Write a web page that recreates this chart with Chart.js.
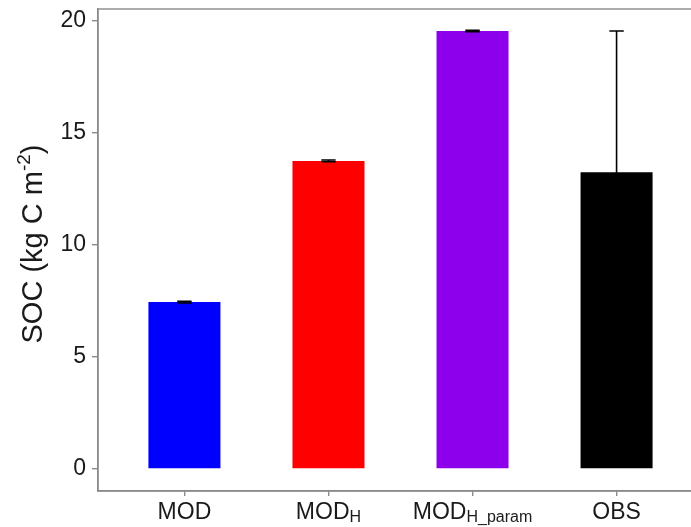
<!DOCTYPE html>
<html lang="en">
<head>
    <meta charset="UTF-8">
    <title>SOC por modelo</title>
    <script src="https://cdn.jsdelivr.net/npm/chart.js"></script>
    <style>
        body { margin: 0; background: #fff; }
        .wrap { width: 691px; height: 527px; overflow: hidden; }
        canvas { display: block; }
    </style>
</head>
<body>
    <div class="wrap">
        <canvas id="socChart" width="704" height="527"></canvas>
    </div>
    <script>
        // Datos
        const labelMain = ['MOD', 'MOD', 'MOD', 'OBS'];
        const labelSub = ['', 'H', 'H_param', ''];
        const socValues = [7.45, 13.75, 19.55, 13.25];
        const socErrors = [0.04, 0.04, 0.03, 6.3];
        const barColors = ['#0000FF', '#FF0000', '#8D00EB', '#000000'];
        const yTicks = [0, 5, 10, 15, 20];

        const axisGrey = '#8a8a8a';
        const textColor = '#1a1a1a';
        const fontFam = '"Liberation Sans", Arial, sans-serif';

        // Barras de error, marco del panel y textos con sub/superindice
        const extras = {
            id: 'extras',
            afterDatasetsDraw(chart) {
                const { ctx, scales: { x, y } } = chart;
                ctx.save();
                ctx.strokeStyle = '#000';
                ctx.lineWidth = 1.6;
                socValues.forEach((v, i) => {
                    const cx = x.getPixelForValue(i);
                    const half = (x.getPixelForValue(i + 0.05) - x.getPixelForValue(i - 0.05)) / 2;
                    const yTop = y.getPixelForValue(v + socErrors[i]);
                    const yBot = y.getPixelForValue(v - socErrors[i]);
                    ctx.beginPath();
                    ctx.moveTo(cx, yTop); ctx.lineTo(cx, yBot);
                    ctx.moveTo(cx - half, yTop); ctx.lineTo(cx + half, yTop);
                    ctx.moveTo(cx - half, yBot); ctx.lineTo(cx + half, yBot);
                    ctx.stroke();
                });
                ctx.restore();
            },
            afterDraw(chart) {
                const { ctx, scales: { x }, chartArea } = chart;
                ctx.save();
                // marco superior y derecho
                ctx.strokeStyle = axisGrey;
                ctx.lineWidth = 1.4;
                ctx.strokeRect(chartArea.left, chartArea.top, chartArea.right - chartArea.left, chartArea.bottom - chartArea.top);

                // etiquetas eje x
                ctx.fillStyle = textColor;
                ctx.textBaseline = 'alphabetic';
                ctx.textAlign = 'left';
                labelMain.forEach((m, i) => {
                    ctx.font = '23px ' + fontFam;
                    const w1 = ctx.measureText(m).width;
                    ctx.font = '16px ' + fontFam;
                    const w2 = labelSub[i] ? ctx.measureText(labelSub[i]).width : 0;
                    const cx = x.getPixelForValue(i);
                    const x0 = cx - (w1 + w2) / 2;
                    ctx.font = '23px ' + fontFam;
                    ctx.fillText(m, x0, 519);
                    if (labelSub[i]) {
                        ctx.font = '16px ' + fontFam;
                        ctx.fillText(labelSub[i], x0 + w1, 522);
                    }
                });

                // titulo eje y
                const yc = (chartArea.top + chartArea.bottom) / 2 - 6;
                ctx.translate(42, yc);
                ctx.rotate(-Math.PI / 2);
                const parts = [
                    { t: 'SOC (kg C m', f: '29px', dy: 0 },
                    { t: '-2', f: '19px', dy: -12 },
                    { t: ')', f: '29px', dy: 0 }
                ];
                let total = 0;
                parts.forEach(p => { ctx.font = p.f + ' ' + fontFam; p.w = ctx.measureText(p.t).width; total += p.w; });
                let px = -total / 2;
                parts.forEach(p => {
                    ctx.font = p.f + ' ' + fontFam;
                    ctx.fillText(p.t, px, p.dy);
                    px += p.w;
                });
                ctx.restore();
            }
        };

        new Chart(document.getElementById('socChart'), {
            type: 'bar',
            data: {
                datasets: [{
                    data: socValues.map((v, i) => ({ x: i, y: v })),
                    backgroundColor: barColors,
                    borderWidth: 0,
                    categoryPercentage: 1,
                    barPercentage: 0.5
                }]
            },
            options: {
                responsive: false,
                animation: false,
                layout: { padding: { top: 9, right: 1, left: 0, bottom: 0 } },
                plugins: { legend: { display: false }, tooltip: { enabled: false } },
                scales: {
                    x: {
                        type: 'linear',
                        offset: false,
                        min: -0.6,
                        max: 3.6,
                        afterBuildTicks: s => { s.ticks = labelMain.map((_, i) => ({ value: i })); },
                        afterFit: s => { s.height = 36; s.paddingLeft = 0; s.paddingRight = 0; },
                        ticks: { color: 'rgba(0,0,0,0)', font: { size: 10 } },
                        grid: { offset: false, drawOnChartArea: false, drawTicks: true, tickLength: 5, color: axisGrey, lineWidth: 1.4 },
                        border: { display: true, color: axisGrey, width: 1.4 }
                    },
                    y: {
                        min: -0.98,
                        max: 20.53,
                        afterBuildTicks: s => { s.ticks = yTicks.map(v => ({ value: v })); },
                        afterFit: s => { s.width = 98; s.paddingTop = 0; s.paddingBottom = 0; },
                        ticks: {
                            color: textColor,
                            padding: 6,
                            font: { size: 23, family: fontFam }
                        },
                        grid: { drawOnChartArea: false, drawTicks: true, tickLength: 6, color: axisGrey, lineWidth: 1.4 },
                        border: { display: true, color: axisGrey, width: 1.4 }
                    }
                }
            },
            plugins: [extras]
        });
    </script>
</body>
</html>
